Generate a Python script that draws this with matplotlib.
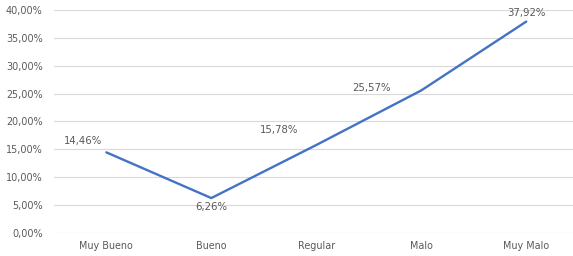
import matplotlib
matplotlib.use("Agg")
import matplotlib.pyplot as plt
from matplotlib.ticker import FuncFormatter, MultipleLocator

categories = ["Muy Bueno", "Bueno", "Regular", "Malo", "Muy Malo"]
values = [14.46, 6.26, 15.78, 25.57, 37.92]
y_ticks_max = 40

label_offsets = [(-17, 8), (0, -6.5), (-27, 11), (-36, 1.5), (0, 6)]

fig = plt.figure(figsize=(5.73, 2.56), dpi=100)
ax = fig.add_axes([0.094, 0.09, 0.916, 0.871])

x = list(range(len(categories)))
ax.plot(x, values, color="#4472C4", linewidth=1.7, solid_capstyle="round", zorder=3)

for xi, v, off in zip(x, values, label_offsets):
    ax.annotate(f"{v:.2f}%".replace(".", ","), (xi, v), xytext=off,
                textcoords="offset points", ha="center", va="center",
                fontsize=7.3, color="#595959")

ax.set_xlim(-0.5, len(categories) - 0.5)
ax.set_ylim(0, y_ticks_max)
ax.yaxis.set_major_locator(MultipleLocator(5))
ax.yaxis.set_major_formatter(FuncFormatter(lambda v, p: f"{v:.2f}%".replace(".", ",")))
ax.set_xticks(x)
ax.set_xticklabels(categories)
ax.grid(axis="y", color="#D9D9D9", linewidth=0.8)
ax.set_axisbelow(True)
for s in ax.spines.values():
    s.set_visible(False)
ax.tick_params(axis="both", length=0, labelsize=6.9, colors="#595959")
ax.tick_params(axis="y", pad=8)
ax.tick_params(axis="x", pad=6)

fig.savefig("out.png", dpi=100, facecolor="white")
